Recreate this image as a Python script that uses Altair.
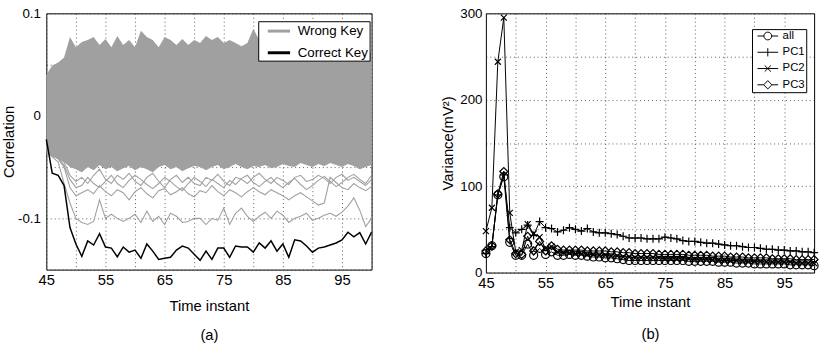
import altair as alt
import pandas as pd

FONT = "Liberation Sans"

# ---------------- data: panel (a) ----------------
t = list(range(45, 101))

correct_key = [-0.023, -0.056, -0.058, -0.068, -0.109, -0.125, -0.137, -0.122, -0.126, -0.115,
               -0.128, -0.129, -0.1375, -0.128, -0.133, -0.131, -0.139, -0.125, -0.132, -0.140,
               -0.139, -0.138, -0.131, -0.127, -0.129, -0.135, -0.141, -0.132, -0.140, -0.129,
               -0.129, -0.138, -0.127, -0.128, -0.128, -0.133, -0.124, -0.129, -0.122, -0.132,
               -0.125, -0.138, -0.121, -0.122, -0.127, -0.133, -0.129, -0.128, -0.126, -0.124,
               -0.121, -0.1135, -0.118, -0.114, -0.125, -0.1135]

wrong_upper = [0.040, 0.049, 0.052, 0.057, 0.077, 0.067, 0.072, 0.074, 0.077, 0.069,
               0.075, 0.067, 0.078, 0.069, 0.074, 0.067, 0.083, 0.077, 0.074, 0.067,
               0.077, 0.074, 0.069, 0.075, 0.069, 0.074, 0.071, 0.078, 0.074, 0.077,
               0.071, 0.074, 0.071, 0.068, 0.071, 0.085, 0.074, 0.070, 0.072, 0.068,
               0.070, 0.066, 0.069, 0.067, 0.070, 0.066, 0.068, 0.065, 0.067, 0.064,
               0.066, 0.063, 0.065, 0.062, 0.064, 0.061]

wrong_lower = [-0.035, -0.040, -0.042, -0.045, -0.050, -0.052, -0.055, -0.050, -0.053, -0.048,
               -0.052, -0.050, -0.054, -0.051, -0.049, -0.053, -0.050, -0.052, -0.055, -0.050,
               -0.048, -0.052, -0.050, -0.054, -0.051, -0.049, -0.050, -0.053, -0.050, -0.048,
               -0.052, -0.050, -0.047, -0.050, -0.052, -0.049, -0.050, -0.048, -0.051, -0.050,
               -0.047, -0.049, -0.050, -0.046, -0.048, -0.050, -0.047, -0.049, -0.046, -0.048,
               -0.050, -0.047, -0.049, -0.052, -0.050, -0.048]

wrong_a = [-0.035, -0.040, -0.045, -0.066, -0.085, -0.100, -0.104, -0.106, -0.103, -0.082,
           -0.100, -0.096, -0.100, -0.103, -0.100, -0.096, -0.104, -0.093, -0.103, -0.098,
           -0.106, -0.095, -0.098, -0.104, -0.103, -0.100, -0.100, -0.106, -0.100, -0.102,
           -0.090, -0.106, -0.095, -0.090, -0.098, -0.103, -0.098, -0.094, -0.100, -0.093,
           -0.097, -0.104, -0.100, -0.098, -0.095, -0.102, -0.100, -0.097, -0.095, -0.098,
           -0.094, -0.088, -0.080, -0.092, -0.108, -0.100]

wrong_b = [-0.030, -0.038, -0.042, -0.050, -0.070, -0.078, -0.075, -0.072, -0.076, -0.068,
           -0.074, -0.078, -0.072, -0.075, -0.082, -0.074, -0.070, -0.076, -0.080, -0.073,
           -0.071, -0.077, -0.074, -0.070, -0.076, -0.079, -0.073, -0.075, -0.068, -0.074,
           -0.078, -0.072, -0.075, -0.079, -0.074, -0.070, -0.074, -0.077, -0.072, -0.075,
           -0.078, -0.082, -0.078, -0.075, -0.079, -0.083, -0.087, -0.085, -0.060, -0.065,
           -0.070, -0.072, -0.066, -0.070, -0.073, -0.069]

wrong_c = [-0.032, -0.036, -0.040, -0.045, -0.058, -0.064, -0.060, -0.066, -0.058, -0.052,
           -0.062, -0.066, -0.058, -0.062, -0.056, -0.064, -0.068, -0.060, -0.056, -0.064,
           -0.070, -0.062, -0.058, -0.065, -0.060, -0.066, -0.068, -0.060, -0.063, -0.057,
           -0.064, -0.068, -0.060, -0.062, -0.066, -0.060, -0.056, -0.062, -0.066, -0.060,
           -0.063, -0.067, -0.060, -0.058, -0.064, -0.062, -0.058, -0.061, -0.066, -0.060,
           -0.057, -0.063, -0.060, -0.064, -0.068, -0.062]

wrong_d = [-0.030, -0.037, -0.041, -0.048, -0.062, -0.070, -0.068, -0.060, -0.066, -0.070,
           -0.064, -0.058, -0.066, -0.070, -0.063, -0.058, -0.062, -0.067, -0.071, -0.066,
           -0.060, -0.064, -0.069, -0.073, -0.066, -0.060, -0.064, -0.069, -0.062, -0.066,
           -0.070, -0.063, -0.067, -0.061, -0.058, -0.065, -0.069, -0.064, -0.060, -0.066,
           -0.070, -0.065, -0.061, -0.067, -0.072, -0.068, -0.063, -0.059, -0.064, -0.069,
           -0.065, -0.060, -0.057, -0.062, -0.066, -0.058]

# ---------------- data: panel (b) ----------------
var_all = [22, 31, 90, 111, 35, 20, 20, 33, 20, 28,
           21, 24, 20, 20, 21, 20, 20, 19, 18, 18,
           17, 17, 16, 15, 14, 14, 14, 14, 14, 14,
           14, 14, 14, 14, 13, 13, 13, 13, 13, 12,
           12, 12, 11, 11, 11, 10, 10, 10, 10, 10,
           10, 9, 9, 9, 9, 8]
var_pc1 = [22, 30, 90, 113, 52, 46, 50, 55, 43, 59,
           52, 51, 47, 49, 52, 50, 48, 51, 47, 46,
           46, 45, 44, 42, 40, 40, 40, 39, 39, 39,
           41, 40, 39, 37, 36, 36, 35, 34, 34, 33,
           32, 31, 31, 30, 29, 29, 28, 27, 27, 26,
           26, 25, 25, 24, 24, 23]
var_pc2 = [48, 75, 244, 295, 69, 24, 26, 56, 45, 41,
           28, 30, 24, 23, 23, 22, 22, 21, 21, 20,
           20, 19, 19, 18, 18, 17, 17, 17, 17, 17,
           16, 16, 16, 16, 16, 15, 15, 15, 15, 14,
           14, 14, 14, 13, 13, 13, 13, 12, 12, 12,
           12, 12, 11, 11, 11, 11]
var_pc3 = [25, 31, 91, 117, 38, 22, 21, 42, 25, 36,
           25, 31, 27, 26, 26, 26, 26, 25, 25, 25,
           25, 24, 24, 23, 23, 22, 22, 22, 22, 21,
           21, 21, 21, 21, 20, 20, 20, 20, 19, 19,
           19, 18, 18, 18, 17, 17, 17, 17, 16, 16,
           16, 16, 15, 15, 15, 15]

SERIES = ["all", "PC1", "PC2", "PC3"]
KEYS = ["Wrong Key", "Correct Key"]

# ---------------- tables ----------------
band = pd.DataFrame({"t": t, "lo": wrong_lower, "hi": wrong_upper})
rows = []
for name, vals in [("a", wrong_a), ("b", wrong_b), ("c", wrong_c), ("d", wrong_d)]:
    for ti, v in zip(t, vals):
        rows.append({"t": ti, "corr": v, "key": "Wrong Key", "line": name})
wrong_df = pd.DataFrame(rows)
correct_df = pd.DataFrame({"t": t, "corr": correct_key, "key": "Correct Key", "line": "k"})

rows = []
for name, vals in zip(SERIES, [var_all, var_pc1, var_pc2, var_pc3]):
    for ti, v in zip(t, vals):
        rows.append({"t": ti, "var": v, "series": name})
var_df = pd.DataFrame(rows)

GRAY = "#a0a0a0"
FS = 15

axis_common = dict(grid=True, gridColor="#333333", gridDash=[1, 3], gridWidth=0.8,
                   ticks=False, domain=False, labelFont=FONT,
                   labelColor="black", titleFont=FONT, titleFontSize=FS,
                   titleFontWeight="normal", titleColor="black",
                   labelFlush=False, labelOverlap=False)

# ---------------- panel (a) ----------------
xa = alt.X("t:Q", scale=alt.Scale(domain=[45, 100], nice=False, zero=False),
           axis=alt.Axis(values=list(range(45, 101, 5)), labelFontSize=FS,
                         labelExpr="datum.value % 10 == 5 ? datum.label : ''",
                         title=["Time instant", "(a)"], titleLineHeight=29,
                         labelPadding=3, titlePadding=12, **axis_common))
ya_scale = alt.Scale(domain=[-0.15, 0.1], nice=False, zero=False)
ya = alt.Y("corr:Q", scale=ya_scale,
           axis=alt.Axis(values=[-0.15, -0.1, -0.05, 0, 0.05, 0.1], format="~g", labelFontSize=13.5,
                         labelExpr="(abs(datum.value) < 1e-9 || abs(abs(datum.value) - 0.1) < 1e-9) ? replace(datum.label, '\u2212', '-') : ''",
                         title="Correlation", labelPadding=6, titlePadding=1, **axis_common))

color_a = alt.Color("key:N", scale=alt.Scale(domain=KEYS, range=[GRAY, "black"]),
                    legend=alt.Legend(orient="none", legendX=215, legendY=8, title=None,
                                      strokeColor="black", fillColor="white", padding=1,
                                      symbolType="M-1.6,0H1.6", symbolSize=200,
                                      symbolStrokeWidth=3, symbolOffset=11,
                                      labelFont=FONT, labelFontSize=13.5, labelColor="black",
                                      labelOffset=10, rowPadding=6))

band_layer = alt.Chart(band).mark_area(color=GRAY, opacity=1).encode(
    x=xa, y=alt.Y("lo:Q", scale=ya_scale), y2="hi:Q")
wrong_layer = alt.Chart(wrong_df).mark_line(strokeWidth=1.1).encode(
    x=xa, y=ya, color=color_a, detail="line:N")
correct_layer = alt.Chart(correct_df).mark_line(strokeWidth=1.5).encode(
    x=xa, y=ya, color=color_a, detail="line:N")

left = alt.layer(band_layer, wrong_layer, correct_layer).properties(width=330, height=260)

# ---------------- panel (b) ----------------
xb = alt.X("t:Q", scale=alt.Scale(domain=[45, 100], nice=False, zero=False),
           axis=alt.Axis(values=list(range(45, 101, 5)), labelFontSize=FS,
                         labelExpr="datum.value % 10 == 5 ? datum.label : ''",
                         title=["Time instant", "(b)"], titleLineHeight=33,
                         labelPadding=3, titlePadding=4, **axis_common))
yb_scale = alt.Scale(domain=[0, 300], nice=False, zero=False)
yb = alt.Y("var:Q", scale=yb_scale,
           axis=alt.Axis(values=list(range(0, 301, 50)), labelFontSize=13.5,
                         labelExpr="datum.value % 100 == 0 ? datum.label : ''",
                         title="Variance(mV²)", labelPadding=4, titlePadding=4, **axis_common))

marker_paths = ["circle", "M-1,0H1M0,-1V1", "M-0.75,-0.75L0.75,0.75M-0.75,0.75L0.75,-0.75", "diamond"]
legend_paths = [
    "M-2,0H-0.75M0.75,0H2M-0.75,0A0.75,0.75,0,1,1,0.75,0A0.75,0.75,0,1,1,-0.75,0",
    "M-2,0H2M0,-0.8V0.8",
    "M-2,0H2M-0.6,-0.6L0.6,0.6M-0.6,0.6L0.6,-0.6",
    "M-2,0H-0.8M0.8,0H2M-0.8,0L0,-0.8L0.8,0L0,0.8Z",
]

line_b = alt.Chart(var_df).mark_line(color="black", strokeWidth=1).encode(
    x=xb, y=yb, detail="series:N")
pts_b = alt.Chart(var_df).mark_point(filled=False, color="black", size=66, strokeWidth=1.2,
                                     opacity=1).encode(
    x=xb, y=yb,
    shape=alt.Shape("series:N", scale=alt.Scale(domain=SERIES, range=marker_paths), legend=None))
leg_b = alt.Chart(var_df).transform_filter("datum.t < 0").mark_point(
    filled=False, color="black", strokeWidth=1, opacity=1).encode(
    x=xb, y=yb,
    shape=alt.Shape("series:N", scale=alt.Scale(domain=SERIES, range=legend_paths),
                    legend=alt.Legend(orient="none", legendX=270, legendY=16, title=None,
                                      strokeColor="black", fillColor="white", padding=1,
                                      symbolSize=110, symbolStrokeWidth=1, symbolOffset=9,
                                      symbolStrokeColor="black", symbolFillColor="transparent",
                                      labelFont=FONT, labelFontSize=11.5, labelColor="black",
                                      labelOffset=9, rowPadding=3.5)))

right = alt.layer(line_b, pts_b, leg_b).resolve_scale(shape="independent").properties(
    width=333, height=263)

chart = alt.hconcat(left, right, spacing=116, bounds="flush").resolve_scale(
    color="independent", shape="independent").resolve_legend(
    color="independent", shape="independent").properties(
    padding={"left": 1, "top": 3, "right": 1, "bottom": 2}, background="white"
).configure_view(stroke="black", strokeWidth=1)

chart.save("out.html", embed_options={"renderer": "svg", "actions": False})
